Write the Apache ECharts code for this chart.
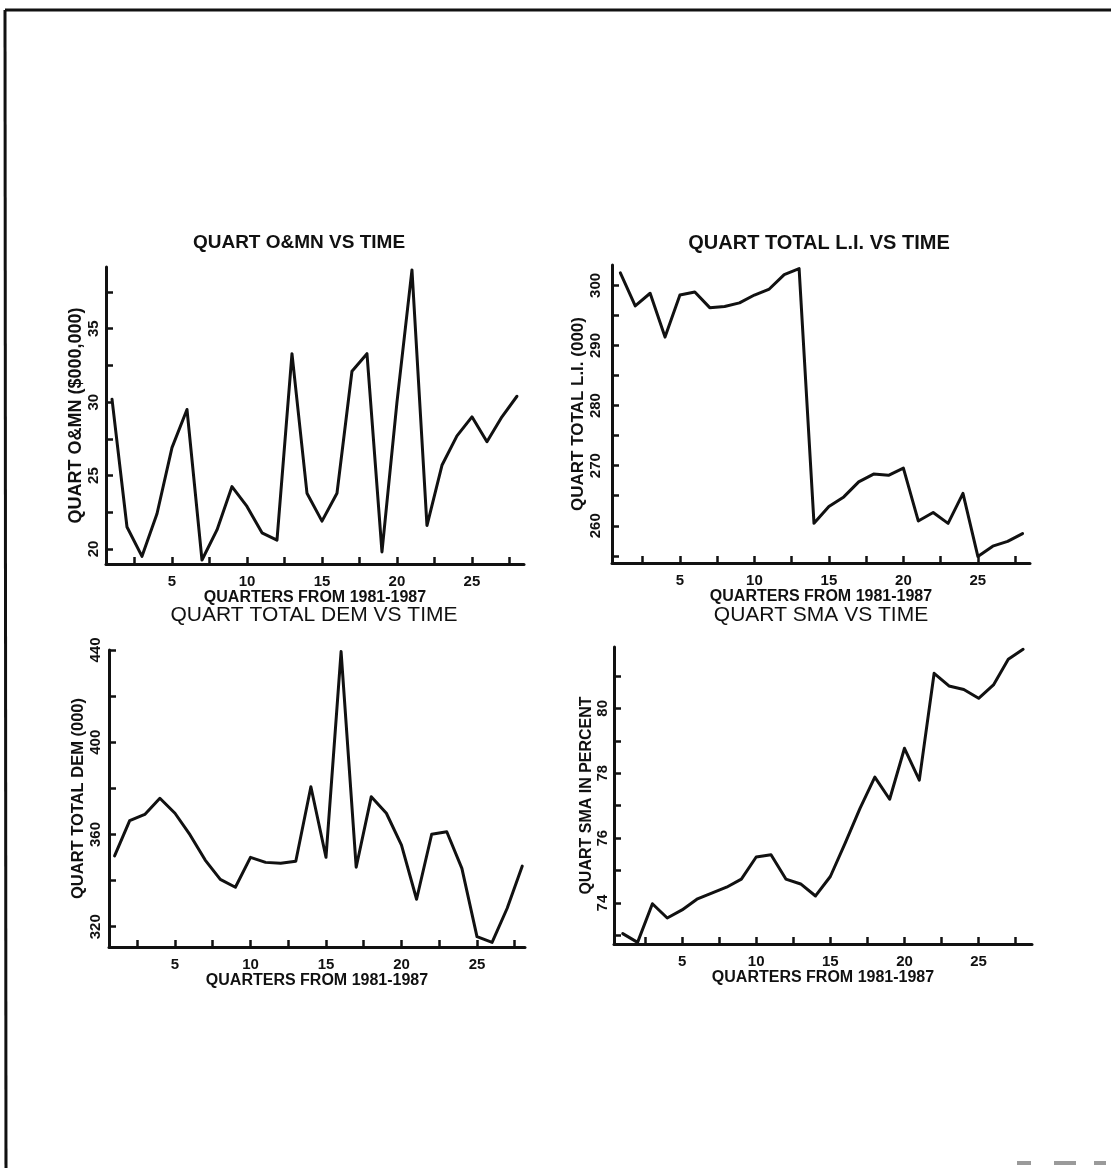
<!DOCTYPE html>
<html>
<head>
<meta charset="utf-8">
<title>Quarterly series 1981-1987</title>
<style>
  html, body { margin: 0; padding: 0; background: #ffffff; }
  #chart { width: 1111px; height: 1168px; }
</style>
<script src="https://cdn.jsdelivr.net/npm/echarts@6/dist/echarts.min.js"></script>
</head>
<body>
<div id="chart"></div>
<script>
// Quarter index, 1981 Q1 .. 1987 Q4
const quarters = [1, 2, 3, 4, 5, 6, 7, 8, 9, 10, 11, 12, 13, 14,
                  15, 16, 17, 18, 19, 20, 21, 22, 23, 24, 25, 26, 27, 28];

// Quarterly O&MN ($000,000)
const omnValues = [30.2, 21.5, 19.5, 22.4, 26.9, 29.5, 19.25, 21.3, 24.25, 22.9,
                   21.1, 20.6, 33.3, 23.8, 21.9, 23.8, 32.1, 33.3, 19.8, 30.0,
                   39.0, 21.6, 25.7, 27.7, 29.0, 27.3, 29.0, 30.4];

// Quarterly total L.I. (000)
const liValues = [302.1, 296.6, 298.7, 291.4, 298.4, 298.9, 296.3, 296.5, 297.1, 298.4,
                  299.4, 301.8, 302.8, 260.4, 263.2, 264.8, 267.3, 268.6, 268.4, 269.6,
                  260.8, 262.2, 260.4, 265.4, 254.9, 256.6, 257.4, 258.7];

// Quarterly total demand (000)
const demValues = [350.7, 366.0, 368.7, 375.7, 369.2, 359.8, 348.9, 340.5, 337.1, 350.1,
                   347.9, 347.5, 348.4, 380.7, 350.1, 439.3, 345.8, 376.4, 369.2, 355.4,
                   331.9, 360.1, 361.2, 345.3, 315.7, 313.2, 328.0, 346.3];

// Quarterly SMA in percent
const smaValues = [73.06, 72.79, 73.98, 73.54, 73.79, 74.12, 74.31, 74.49, 74.74, 75.42,
                   75.49, 74.74, 74.59, 74.22, 74.82, 75.85, 76.92, 77.88, 77.20, 78.77,
                   77.79, 81.08, 80.69, 80.58, 80.31, 80.72, 81.51, 81.82];

// Tick marks and tick labels
const xTicks = [2.5, 5, 7.5, 10, 12.5, 15, 17.5, 20, 22.5, 25, 27.5];
const xLabels = [5, 10, 15, 20, 25];
const omnTicks = [20, 22.5, 25, 27.5, 30, 32.5, 35, 37.5];
const omnLabels = [20, 25, 30, 35];
const liTicks = [255, 260, 265, 270, 275, 280, 285, 290, 295, 300];
const liLabels = [260, 270, 280, 290, 300];
const demTicks = [320, 340, 360, 380, 400, 420, 440];
const demLabels = [320, 360, 400, 440];
const smaTicks = [73, 74, 75, 76, 77, 78, 79, 80, 81];
const smaLabels = [74, 76, 78, 80];

const titles = ['QUART O&MN VS TIME', 'QUART TOTAL L.I. VS TIME',
                'QUART TOTAL DEM VS TIME', 'QUART SMA VS TIME'];
const yNames = ['QUART O&MN ($000,000)', 'QUART TOTAL L.I. (000)',
                'QUART TOTAL DEM (000)', 'QUART SMA IN PERCENT'];
const xName = 'QUARTERS FROM 1981-1987';

const INK = '#111111';
const FONT = '"Liberation Sans", Arial, sans-serif';

// Panel frames and axis ranges
const panels = [
  { grid: { left: 106, top: 267, width: 418, height: 297 }, xMin: 0.6,  xMax: 28.47,
    yMin: 18.98, yMax: 39.2, yTicks: omnTicks, yLabels: omnLabels, values: omnValues,
    labelMargin: 5, nameGap: 17, nameSize: 18,
    title: { x: 299, y: 243, size: 19, weight: 'bold' } },
  { grid: { left: 612, top: 265, width: 418, height: 298 }, xMin: 0.44, xMax: 28.5,
    yMin: 253.8, yMax: 303.4, yTicks: liTicks, yLabels: liLabels, values: liValues,
    labelMargin: 9, nameGap: 20, nameSize: 17,
    title: { x: 819, y: 243, size: 20, weight: 'bold' } },
  { grid: { left: 109, top: 650, width: 416, height: 297 }, xMin: 0.63, xMax: 28.18,
    yMin: 311.2, yMax: 440, yTicks: demTicks, yLabels: demLabels, values: demValues,
    labelMargin: 6, nameGap: 21, nameSize: 16.5,
    title: { x: 314, y: 615, size: 21, weight: 'normal' } },
  { grid: { left: 614, top: 647, width: 418, height: 297 }, xMin: 0.41, xMax: 28.6,
    yMin: 72.74, yMax: 81.89, yTicks: smaTicks, yLabels: smaLabels, values: smaValues,
    labelMargin: 4, nameGap: 19, nameSize: 16,
    title: { x: 821, y: 615, size: 21, weight: 'normal' } }
];

const axisLine = { show: true, lineStyle: { color: INK, width: 3 } };
const axisTick = (vals) => ({ show: true, inside: true, length: 7, customValues: vals,
                              lineStyle: { color: INK, width: 2.5 } });
const tickFont = { color: INK, fontFamily: FONT, fontWeight: 'bold', fontSize: 15 };
const nameFont = (size) => ({ color: INK, fontFamily: FONT, fontWeight: 'bold', fontSize: size });

const grids = [], xAxes = [], yAxes = [], series = [], graphics = [];

panels.forEach((p, i) => {
  grids.push(Object.assign({ containLabel: false }, p.grid));
  xAxes.push({
    type: 'value', gridIndex: i, min: p.xMin, max: p.xMax,
    axisLine, axisTick: axisTick(xTicks), splitLine: { show: false },
    axisLabel: Object.assign({ customValues: xLabels, margin: 10 }, tickFont),
    name: xName, nameLocation: 'middle', nameGap: 17, nameTextStyle: nameFont(16)
  });
  yAxes.push({
    type: 'value', gridIndex: i, min: p.yMin, max: p.yMax,
    axisLine, axisTick: axisTick(p.yTicks), splitLine: { show: false },
    axisLabel: Object.assign({ customValues: p.yLabels, rotate: 90, margin: p.labelMargin }, tickFont),
    name: yNames[i], nameLocation: 'middle', nameRotate: 90, nameGap: p.nameGap,
    nameTextStyle: nameFont(p.nameSize)
  });
  series.push({
    type: 'line', xAxisIndex: i, yAxisIndex: i, showSymbol: false, symbol: 'none',
    animation: false, silent: true,
    lineStyle: { color: INK, width: 3, join: 'round', cap: 'round' },
    data: quarters.map((q, k) => [q, p.values[k]])
  });
  graphics.push({
    type: 'text', x: p.title.x, y: p.title.y, silent: true,
    style: { text: titles[i], fill: INK, align: 'center', verticalAlign: 'middle',
             font: p.title.weight + ' ' + p.title.size + 'px ' + FONT }
  });
});

// Page frame along the top and left edges, plus faint marks at the bottom right
graphics.push(
  { type: 'line', silent: true, shape: { x1: 5, y1: 10, x2: 1111, y2: 10 },
    style: { stroke: INK, lineWidth: 3 } },
  { type: 'line', silent: true, shape: { x1: 5, y1: 10, x2: 6, y2: 1168 },
    style: { stroke: INK, lineWidth: 3 } },
  { type: 'rect', silent: true, shape: { x: 1017, y: 1161, width: 14, height: 4 }, style: { fill: '#9a9a9a' } },
  { type: 'rect', silent: true, shape: { x: 1054, y: 1161, width: 22, height: 4 }, style: { fill: '#9a9a9a' } },
  { type: 'rect', silent: true, shape: { x: 1094, y: 1161, width: 12, height: 4 }, style: { fill: '#9a9a9a' } }
);

const chart = echarts.init(document.getElementById('chart'), null, { renderer: 'canvas' });
chart.setOption({
  backgroundColor: '#ffffff',
  animation: false,
  grid: grids,
  xAxis: xAxes,
  yAxis: yAxes,
  series,
  graphic: graphics
});
</script>
</body>
</html>
